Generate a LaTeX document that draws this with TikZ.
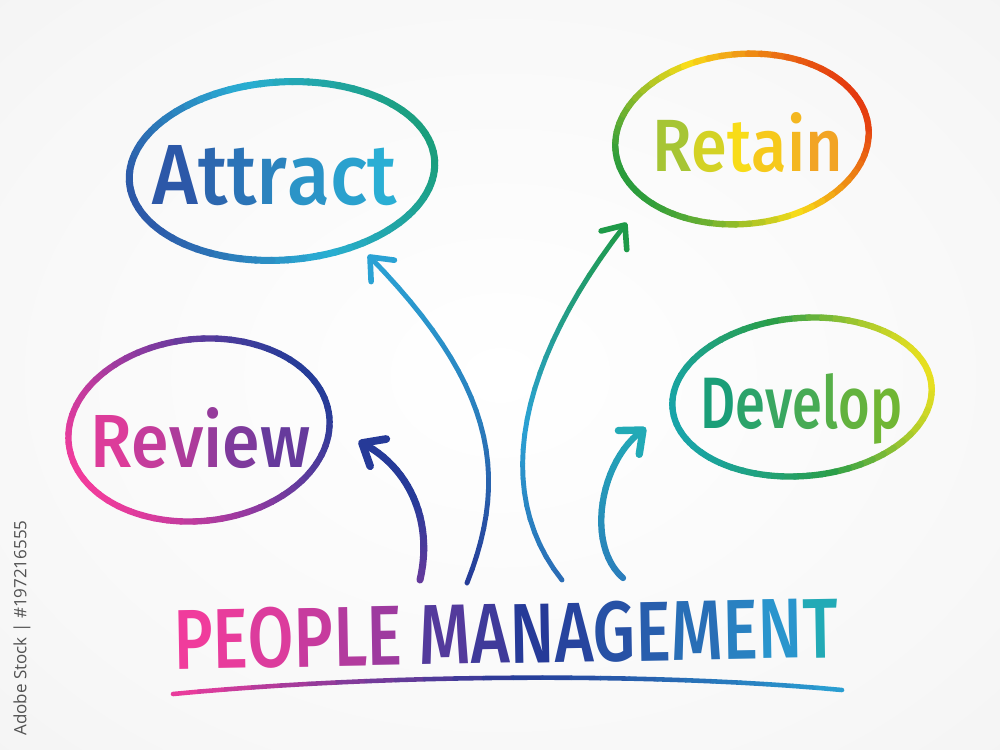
\documentclass[tikz,border=0pt]{standalone}
\usepackage{fontspec}
\setmainfont{Fira Sans}[BoldFont={Fira Sans Medium}]
\newfontfamily\wmfont{Open Sans}
\usepackage{graphicx}
\usetikzlibrary{calc}
\definecolor{attA}{HTML}{2C58A8}
\definecolor{attB}{HTML}{2AAED4}
\definecolor{attC}{HTML}{1A9E7C}
\definecolor{retA}{HTML}{2A9C3C}
\definecolor{retB}{HTML}{F8DC18}
\definecolor{retC}{HTML}{E43A10}
\definecolor{retT}{HTML}{F2A424}
\definecolor{retL}{HTML}{A6C534}
\definecolor{revA}{HTML}{F03C9C}
\definecolor{revB}{HTML}{8A3AA0}
\definecolor{revC}{HTML}{243C98}
\definecolor{revL}{HTML}{DC3C9A}
\definecolor{revR}{HTML}{663A9C}
\definecolor{devA}{HTML}{18A4A8}
\definecolor{devB}{HTML}{2A9E48}
\definecolor{devC}{HTML}{E8E020}
\definecolor{devL}{HTML}{1A9E78}
\definecolor{devR}{HTML}{70B634}
\definecolor{navy}{HTML}{263A98}
\definecolor{skyblue}{HTML}{2AA2D4}
\definecolor{midblue}{HTML}{2A6AB4}
\definecolor{leaf}{HTML}{1E9A48}
\definecolor{steel}{HTML}{2A7CBC}
\definecolor{teal}{HTML}{22AAB6}
\definecolor{pink}{HTML}{F03C9C}
\pgfdeclareradialshading{paper}{\pgfpointorigin}{color(0bp)=(white); color(28bp)=(white!97!black); color(72bp)=(black!10)}
\tikzset{
  word/.style={inner sep=0pt, anchor=base west, font=\bfseries},
  ring/.style={line width=3.6pt, line cap=round},
  stroke/.style={line cap=round, line join=round}
}
% ring drawn in short arcs, colour taken along direction #5
\newcommand{\gradring}[8][]{%
  \foreach \a in {0,6,...,354}{%
    \pgfmathsetmacro\pp{(cos(\a+3)*(#3/100)*cos(#5)+sin(\a+3)*(#4/100)*sin(#5))/veclen((#3/100)*cos(#5),(#4/100)*sin(#5))}%
    \pgfmathtruncatemacro\pc{(\pp+1)*100}%
    \ifnum\pc<100 \def\segcol{#7!\pc!#6}\else\pgfmathtruncatemacro\pc{\pc-100}\def\segcol{#8!\pc!#7}\fi
    \pgfmathsetmacro\ae{\a+6.5}%
    \draw[ring, shift={(#2)}, #1, color=\segcol] (\a:#3 and #4) arc[start angle=\a, end angle=\ae, x radius=#3, y radius=#4];
  }%
}
% curve drawn in short pieces, colour from start to end
\newcommand{\gradpath}[8][]{%
  \foreach \i in {0,...,23}{%
    \pgfmathsetmacro\ta{\i/24}%
    \pgfmathsetmacro\tb{(\i+1)/24}%
    \pgfmathtruncatemacro\pc{(\i+0.5)/24*200}%
    \ifnum\pc<100 \def\segcol{#7!\pc!#6}\else\pgfmathtruncatemacro\pc{\pc-100}\def\segcol{#8!\pc!#7}\fi
    \path #2 .. controls #3 and #4 .. #5 coordinate[pos=\ta] (qa) coordinate[pos=\tb] (qb);
    \draw[stroke, #1, color=\segcol] (qa) -- (qb);
  }%
  \path #2 .. controls #3 and #4 .. #5 coordinate[pos=0.9] (hb);
}
\newcommand{\arrowhead}[3][]{%
  \draw[stroke, #1, color=#3] ($(#2)!14pt!40:(hb)$) -- (#2) -- ($(#2)!14pt!-40:(hb)$);
}
\begin{document}
\begin{tikzpicture}[x=0.02cm, y=-0.02cm]

  % Background
  \shade[shading=paper] (0,0) rectangle (1000,750);
  \useasboundingbox (0,0) rectangle (1000,750);

  % Nodes
  \coordinate (attract-c) at (282,171);
  \coordinate (retain-c) at (742,139);
  \coordinate (review-c) at (199,430);
  \coordinate (develop-c) at (802,397);

  \node[word] (attract) at (152,204) {\resizebox{4.9cm}{1.18cm}{\textcolor{attA}{A}\textcolor{attA!83!attB}{t}\textcolor{attA!67!attB}{t}\textcolor{attA!50!attB}{r}\textcolor{attA!30!attB}{a}\textcolor{attA!15!attB}{c}\textcolor{attB}{t}}};
  \node[word] (retain) at (652,171) {\resizebox{3.82cm}{1.18cm}{\textcolor{retL}{R}\textcolor{retL!45!retB}{e}\textcolor{retB}{t}\textcolor{retB!67!retT}{a}\textcolor{retB!33!retT}{i}\textcolor{retT}{n}}};
  \node[word] (review) at (90,467) {\resizebox{4.4cm}{1.2cm}{\textcolor{revL}{R}\textcolor{revL!80!revR}{e}\textcolor{revL!60!revR}{v}\textcolor{revL!40!revR}{i}\textcolor{revL!20!revR}{e}\textcolor{revR}{w}}};
  \node[word] (develop) at (700,428) {\resizebox{4.04cm}{1.1cm}{\textcolor{devL}{D}\textcolor{devL!80!devR}{e}\textcolor{devL!64!devR}{v}\textcolor{devL!48!devR}{e}\textcolor{devL!30!devR}{l}\textcolor{devL!15!devR}{o}\textcolor{devR}{p}}};

  \node[inner sep=0pt, font=\bfseries, rotate=1] (title) at (506,634) {\resizebox{13.3cm}{1.2cm}{%
    \textcolor{pink}{P}\textcolor{pink!92!revB}{E}\textcolor{pink!80!revB}{O}\textcolor{pink!60!revB}{P}\textcolor{pink!40!revB}{L}\textcolor{pink!20!revB}{E}
    \textcolor{revB!45!navy}{M}\textcolor{revB!25!navy}{A}\textcolor{navy}{N}\textcolor{navy!90!skyblue}{A}\textcolor{navy!78!skyblue}{G}\textcolor{navy!65!skyblue}{E}\textcolor{navy!50!skyblue}{M}\textcolor{navy!32!skyblue}{E}\textcolor{navy!12!skyblue}{N}\textcolor{teal}{T}}};

  \node[rotate=90, inner sep=0pt, text=black!68, font=\wmfont] (stock) at (22,628) {\resizebox{4.3cm}{!}{Adobe Stock | \#197216555}};

  % Rings
  \gradring[rotate=4, line width=4pt]{attract-c}{153}{89}{-20}{attA}{attB}{attC}
  \gradring[rotate=5]{retain-c}{127}{85}{-30}{retA}{retB}{retC}
  \gradring[rotate=6]{review-c}{131}{91}{-30}{revA}{revB}{revC}
  \gradring[rotate=5]{develop-c}{130}{79}{-15}{devA}{devB}{devC}

  % Connections
  \coordinate (rev-s) at (420,580);
  \coordinate (rev-t) at (362,443);
  \coordinate (att-s) at (467,583);
  \coordinate (att-t) at (370,257);
  \coordinate (ret-s) at (562,580);
  \coordinate (ret-t) at (625,225);
  \coordinate (dev-s) at (623,578);
  \coordinate (dev-t) at (643,430);
  \coordinate (ul-s) at (173,694);
  \coordinate (ul-e) at (842,690);

  \gradpath[line width=4pt]{(rev-s)}{(434,520)}{(408,466)}{(rev-t)}{revR}{navy}{navy}
  \arrowhead[line width=4.4pt]{rev-t}{navy}
  \gradpath[line width=2.8pt]{(att-s)}{(512,470)}{(490,380)}{(att-t)}{navy}{steel}{skyblue}
  \arrowhead[line width=3.2pt]{att-t}{skyblue}
  \gradpath[line width=2.8pt]{(ret-s)}{(490,490)}{(520,360)}{(ret-t)}{midblue}{skyblue}{leaf}
  \arrowhead[line width=3.2pt]{ret-t}{leaf}
  \gradpath[line width=3.6pt]{(dev-s)}{(585,545)}{(600,460)}{(dev-t)}{steel}{steel!50!teal}{teal}
  \arrowhead[line width=4.2pt]{dev-t}{teal}

  % Underline
  \gradpath[line width=2.6pt]{(ul-s)}{(380,674)}{(650,672)}{(ul-e)}{pink}{navy}{skyblue}

\end{tikzpicture}
\end{document}
